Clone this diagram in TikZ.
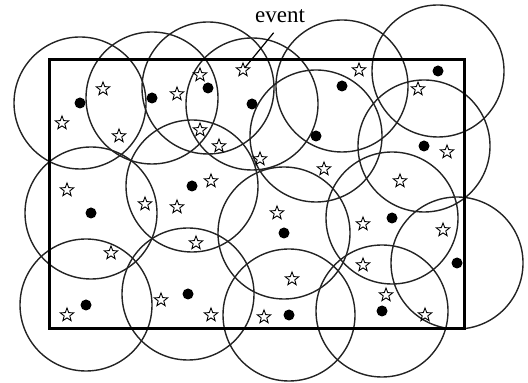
\documentclass[tikz,border=0pt]{standalone}
\usepackage{fontspec}
\setmainfont{Liberation Serif}
\usepackage{tikz}
\usetikzlibrary{shapes.geometric, positioning}
\definecolor{wsnline}{RGB}{35,35,35}
\tikzset{
  %% ---- nodes ----
  sensor/.style    = {circle, fill=black, inner sep=0pt, minimum size=5.5pt},
  sensrange/.style = {circle, draw=wsnline, line width=0.7pt,
                      inner sep=0pt, minimum size=66pt},
  target/.style    = {star, star points=5, star point ratio=2.4,
                      draw=black, line width=0.45pt,
                      inner sep=0pt, minimum size=7pt},
  field/.style     = {draw=black, line width=1.5pt},
  tag/.style       = {font=\fontsize{11.5}{13}\selectfont, inner sep=1pt},
  %% ---- arrows ----
  pointer/.style   = {line width=0.6pt, shorten <=5pt},
}

\begin{document}
\begin{tikzpicture}[x=0.5pt, y=-0.5pt]
\useasboundingbox (0,0) rectangle (528,383);
% sensors with their sensing ranges
\foreach \px/\py [count=\i] in {80/103, 152/98, 208/88, 252/104, 342/86,
    438/71, 316/136, 424/146, 192/186, 91/213, 284/233, 392/218, 457/263,
    86/305, 188/294, 289/315, 382/311}{
  \node[sensrange] (r\i) at (\px,\py) {};
  \node[sensor]    (s\i) at (\px,\py) {};
}
% monitored field
\draw[field] (49,60) rectangle (464,329);
% targets
\foreach \px/\py [count=\i] in {103/89, 62/123, 119/136, 177/94, 200/75,
    200/130, 219/146, 260/159, 211/181, 67/190, 359/70, 418/89, 447/152,
    324/169, 400/181, 145/204, 177/207, 196/243, 111/253, 161/300, 211/315,
    67/315, 264/317, 277/213, 363/224, 443/230, 363/265, 292/279, 386/295,
    425/315}{
  \node[target] (t\i) at (\px,\py) {};
}
\node[target] (evt) at (243,70) {};
\node[tag] (event) at (280,16) {event};
\draw[pointer] (event.south) -- (evt);
\end{tikzpicture}
\end{document}
